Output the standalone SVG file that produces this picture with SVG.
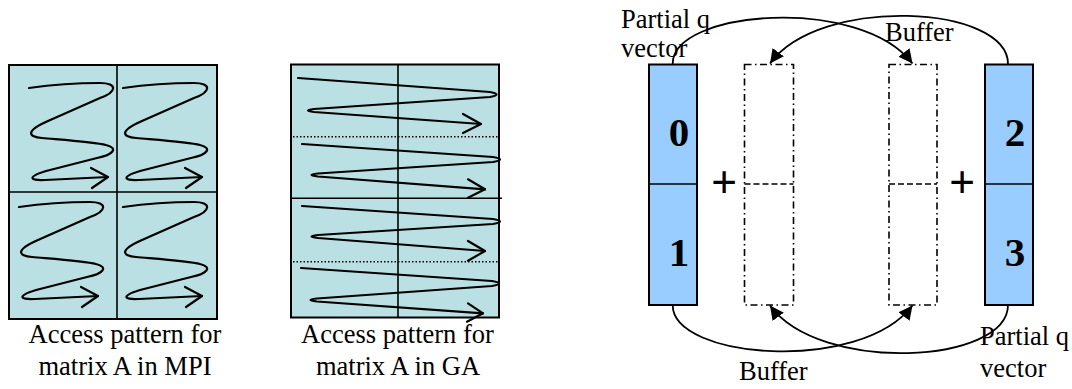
<svg xmlns="http://www.w3.org/2000/svg" width="1072" height="389" viewBox="0 0 1072 389">
<style>
text{font-family:"Liberation Serif","Times New Roman",serif;fill:#000}
.lbl{font-size:26.5px}
.num{font-size:41px;font-weight:bold}
.plus{font-size:46px;font-weight:bold}
.mat{fill:#BBE0E3;stroke:#000;stroke-width:2}
.div{fill:none;stroke:#000;stroke-width:1.6}
.dot{fill:none;stroke:#000;stroke-width:1.5;stroke-dasharray:1.5 2}
.zz{fill:none;stroke:#000;stroke-width:2.2;stroke-linecap:round;stroke-linejoin:round}
.vec{fill:#99CCFF;stroke:#000;stroke-width:2}
.buf{fill:none;stroke:#000;stroke-width:1.6;stroke-dasharray:7 3.5 1.5 3.5}
.mid{fill:none;stroke:#000;stroke-width:1.6;stroke-dasharray:6 3}
.con{fill:none;stroke:#000;stroke-width:1.8}
</style>
<defs>
<marker id="arr" markerUnits="userSpaceOnUse" viewBox="0 0 14 14" markerWidth="14" markerHeight="14" refX="14" refY="7" orient="auto">
<path d="M0,0 L14,7 L0,14 z" fill="#000"/>
</marker>
<g id="zq">
<path class="zz" d="M29,88 C50,85 80,83 100,83 C118,83 117,92 100,98 L48,121 C25,131 28,137 42,138 C65,140 95,142 106,145 C119,148 113,155 97,158 L50,170 C27,176 28,181 45,180 C70,179 90,178 108,177"/>
<path class="zz" d="M91,168 L108,177 L92,188"/>
</g>
</defs>

<g id="mpi-matrix">
<rect class="mat" x="9" y="65" width="208" height="254"/>
<line class="div" x1="117" y1="65" x2="117" y2="319"/>
<line class="div" x1="9" y1="192" x2="217" y2="192"/>
<use href="#zq"/>
<use href="#zq" transform="translate(94,0)"/>
<use href="#zq" transform="translate(-10,119)"/>
<use href="#zq" transform="translate(94,119)"/>
</g>

<g id="ga-matrix">
<rect class="mat" x="291" y="64.5" width="208" height="253"/>
<line class="div" x1="398" y1="64.5" x2="398" y2="317.5"/>
<line class="dot" x1="293" y1="136.7" x2="499" y2="136.7"/>
<line class="dot" x1="293" y1="261.7" x2="499" y2="261.7"/>
<line class="div" x1="292" y1="198.3" x2="502" y2="198.3"/>
<path class="zz" d="M298,78 L490,92 Q503,94.5 490,97 L314,109 Q302,110.5 314,112 L481,124"/>
<path class="zz" d="M463,114 L481,124 L463,133"/>
<path class="zz" d="M302,144 L493,157 Q507,159.5 493,162 L318,173.5 Q305,175 318,176.5 L485,189.3"/>
<path class="zz" d="M468,179.3 L485,189.3 L468,197.7"/>
<path class="zz" d="M302,206 L493,219 Q507,221.5 493,224 L318,235 Q305,236.5 318,238 L485,251"/>
<path class="zz" d="M468,241 L485,251 L468,260.7"/>
<path class="zz" d="M301,268 L492,281 Q506,283.5 492,286 L317,298.5 Q304,300 317,301.5 L483,313.3"/>
<path class="zz" d="M468,303.3 L483,313.3 L467,321.7"/>
</g>

<g id="caption-mpi">
<text class="lbl" x="125" y="343" text-anchor="middle">Access pattern for</text>
<text class="lbl" x="125" y="375" text-anchor="middle">matrix A in MPI</text>
</g>
<g id="caption-ga">
<text class="lbl" x="397.5" y="343" text-anchor="middle">Access pattern for</text>
<text class="lbl" x="398" y="375" text-anchor="middle">matrix A in GA</text>
</g>

<g id="vector-01">
<rect class="vec" x="649" y="64.5" width="48" height="240.5"/>
<line class="div" x1="649" y1="184" x2="697" y2="184"/>
<text class="num" x="679" y="146" text-anchor="middle">0</text>
<text class="num" x="679" y="266" text-anchor="middle">1</text>
</g>
<g id="buffer-left">
<rect class="buf" x="744.5" y="64.5" width="49" height="240.5"/>
<line class="mid" x1="744.5" y1="184" x2="793.5" y2="184"/>
</g>
<g id="buffer-right">
<rect class="buf" x="889" y="64.5" width="48" height="240.5"/>
<line class="mid" x1="889" y1="184" x2="937" y2="184"/>
</g>
<g id="vector-23">
<rect class="vec" x="985" y="64.5" width="48" height="240.5"/>
<line class="div" x1="985" y1="184" x2="1033" y2="184"/>
<text class="num" x="1015" y="146" text-anchor="middle">2</text>
<text class="num" x="1015" y="266" text-anchor="middle">3</text>
</g>
<g id="plus-signs">
<text class="plus" x="724" y="198" text-anchor="middle">+</text>
<text class="plus" x="962" y="198" text-anchor="middle">+</text>
</g>

<g id="connectors">
<path class="con" d="M672.7,64 C672,10 860,-5 912.5,63.5" marker-end="url(#arr)"/>
<path class="con" d="M1008,64 C1008,5 820,-5 770,63.5" marker-end="url(#arr)"/>
<path class="con" d="M672.7,305 C672,359 860,374 912.5,305.5" marker-end="url(#arr)"/>
<path class="con" d="M1008,305 C1008,364 820,374 770,305.5" marker-end="url(#arr)"/>
</g>

<g id="labels">
<text class="lbl" x="621" y="28">Partial q</text>
<text class="lbl" x="621" y="57">vector</text>
<text class="lbl" x="885" y="41">Buffer</text>
<text class="lbl" x="739" y="380">Buffer</text>
<text class="lbl" x="980" y="345">Partial q</text>
<text class="lbl" x="980" y="377">vector</text>
</g>
</svg>
